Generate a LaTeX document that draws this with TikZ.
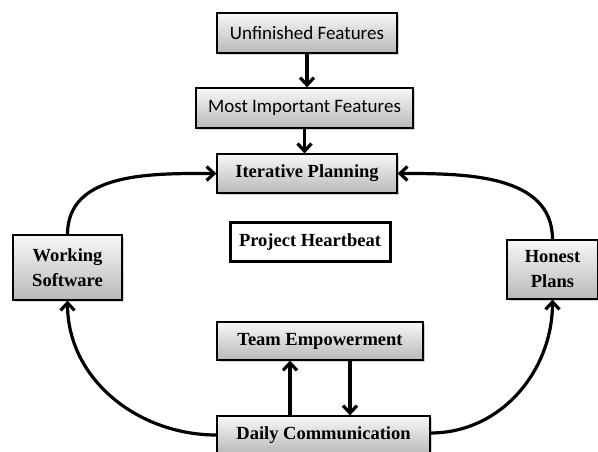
\documentclass[tikz,border=0pt]{standalone}
\usepackage{fontspec}
\setmainfont{Liberation Serif}
\newfontfamily\calibri{Carlito}
\usetikzlibrary{arrows.meta,shadows}

\tikzset{
	box/.style={draw, line width=1.2pt, top color=gray!6, bottom color=gray!55,
		drop shadow={shadow xshift=2pt, shadow yshift=-2pt, opacity=0.35},
		inner sep=0pt, align=center, font=\bfseries\fontsize{18.5}{25}\selectfont},
	sansbox/.style={box, font=\calibri\fontsize{19}{21}\selectfont},
	flow/.style={line width=3.2pt, -{Straight Barb[length=7.5pt,width=14pt]}}
}

\begin{document}
\begin{tikzpicture}[x=1pt,y=1pt]

		\useasboundingbox (0,0) rectangle (598,452);

		\node[sansbox, minimum width=180, minimum height=40] (unf) at (307,419) {Unfinished Features};
		\node[sansbox, minimum width=217, minimum height=40] (most) at (304.5,344) {Most Important Features};
		\node[box, minimum width=180, minimum height=39] (iter) at (307,278.5) {Iterative Planning};

		\node[draw, line width=3pt, fill=white, minimum width=160, minimum height=39,
			font=\bfseries\fontsize{18.5}{20}\selectfont] (heart) at (310,209.5) {Project Heartbeat};

		\node[box, minimum width=109, minimum height=65] (work) at (67.5,184.5) {Working\\Software};
		\node[box, minimum width=91, minimum height=59] (honest) at (552.5,182.5) {Honest\\Plans};

		\node[box, minimum width=206, minimum height=38] (team) at (320,111) {Team Empowerment};
		\node[box, minimum width=213, minimum height=38] (daily) at (323.5,17) {Daily Communication};

		\draw[flow] (unf.south) -- (unf.south |- most.north);
		\draw[flow] (most.south) -- (most.south |- iter.north);

		\draw[flow] (work.north) to[out=90, in=180] (iter.west);
		\draw[flow] (honest.north) to[out=90, in=0] (iter.east);
		\draw[flow] (daily.west) to[out=180, in=-90] (work.south);
		\draw[flow] ([yshift=2pt]daily.east) to[out=0, in=-90] (honest.south);

		\draw[flow] ([xshift=-33.5pt]daily.north) -- ([xshift=-30pt]team.south);
		\draw[flow] ([xshift=30pt]team.south) -- ([xshift=26.5pt]daily.north);

\end{tikzpicture}
\end{document}
